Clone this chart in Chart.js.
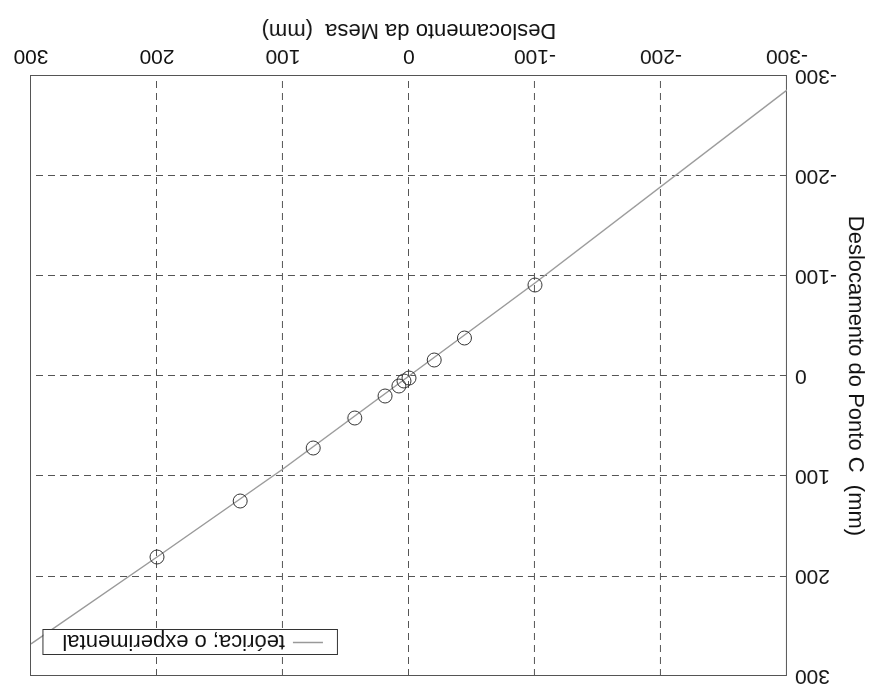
<!DOCTYPE html>
<html>
<head>
<meta charset="utf-8">
<title>Deslocamento do Ponto C x Deslocamento da Mesa</title>
<script src="https://cdn.jsdelivr.net/npm/chart.js@4.4.0/dist/chart.umd.min.js"></script>
<style>
  html, body { margin: 0; padding: 0; background: #fff; }
  /* the scanned figure is upside down, so the whole canvas is turned */
  #wrap { width: 876px; height: 684px; transform: rotate(180deg); }
</style>
</head>
<body>
<div id="wrap"><canvas id="chart" width="876" height="684"></canvas></div>
<script>
// === DATA ===
const xTicks = [-300, -200, -100, 0, 100, 200, 300];
const yTicks = [-300, -200, -100, 0, 100, 200, 300];

// theoretical line
const teoX = [-300, -100, 0, 100, 200, 300];
const teoY = [-286, -93, 0, 93, 181, 268];

// experimental points (circles)
const expX = [-100, -44, -20, 0, 4, 8, 19, 43, 76, 134, 200];
const expY = [-91, -38, -16, 2, 5, 10, 20, 42, 72, 125, 181];

const xTitle = "Deslocamento da Mesa  (mm)";
const yTitle = "Deslocamento do Ponto C  (mm)";
const legendText = "teórica; o experimental";
// =================

const FONT = "'Liberation Sans', Arial, Helvetica, sans-serif";

function pts(xs, ys) { return xs.map((x, i) => ({ x, y: ys[i] })); }

// solid box round the plot area
const frame = {
  id: "frame",
  beforeDatasetsDraw(chart) {
    const { ctx, chartArea: a } = chart;
    ctx.save();
    ctx.strokeStyle = "#555";
    ctx.lineWidth = 1;
    ctx.strokeRect(a.left + 0.5, a.top + 0.5, a.right - a.left, a.bottom - a.top);
    ctx.restore();
  }
};

// boxed legend in the upper right corner of the plot
const boxLegend = {
  id: "boxLegend",
  afterDraw(chart) {
    const { ctx, chartArea: a } = chart;
    ctx.save();
    ctx.font = "22px " + FONT;
    const tw = ctx.measureText(legendText).width;
    const w = tw + 72, h = 25;
    const x = Math.round(a.right - 12 - w), y = Math.round(a.top + 21);
    ctx.fillStyle = "#fff";
    ctx.fillRect(x, y, w, h);
    ctx.strokeStyle = "#333";
    ctx.lineWidth = 1;
    ctx.strokeRect(x + 0.5, y + 0.5, w, h);
    ctx.strokeStyle = "#999";
    ctx.lineWidth = 1.5;
    ctx.beginPath();
    ctx.moveTo(x + 15, y + h / 2);
    ctx.lineTo(x + 45, y + h / 2);
    ctx.stroke();
    ctx.fillStyle = "#111";
    ctx.textBaseline = "middle";
    ctx.fillText(legendText, x + 53, y + h / 2 + 1);
    ctx.restore();
  }
};

new Chart(document.getElementById("chart"), {
  type: "scatter",
  data: {
    datasets: [
      {
        label: "teórica",
        data: pts(teoX, teoY),
        showLine: true,
        borderColor: "#9a9a9a",
        borderWidth: 1.5,
        pointRadius: 0,
        order: 2
      },
      {
        label: "experimental",
        data: pts(expX, expY),
        showLine: false,
        pointStyle: "circle",
        pointRadius: 7,
        pointBorderWidth: 1,
        pointBorderColor: "#333",
        pointBackgroundColor: "rgba(0,0,0,0)",
        order: 1
      }
    ]
  },
  options: {
    responsive: false,
    animation: false,
    layout: { padding: { top: 6, right: 31, bottom: 0, left: 0 } },
    plugins: { legend: { display: false }, tooltip: { enabled: false } },
    scales: {
      x: {
        type: "linear",
        min: xTicks[0],
        max: xTicks[xTicks.length - 1],
        afterBuildTicks: s => { s.ticks = xTicks.map(v => ({ value: v })); },
        afterFit: s => { s.height = 76; },
        ticks: { color: "#111", font: { family: FONT, size: 21 }, padding: 8, maxRotation: 0 },
        grid: { color: "#555", lineWidth: 1, drawTicks: false },
        border: { display: false, dash: [7, 5] },
        title: {
          display: true, text: xTitle, color: "#111",
          font: { family: FONT, size: 22 }, padding: { top: 0, bottom: 17 }
        }
      },
      y: {
        type: "linear",
        min: yTicks[0],
        max: yTicks[yTicks.length - 1],
        afterBuildTicks: s => { s.ticks = yTicks.map(v => ({ value: v })); },
        afterFit: s => { s.width = 89; s.paddingTop = 0; s.paddingBottom = 0; },
        ticks: { color: "#111", font: { family: FONT, size: 21 }, padding: 8 },
        grid: { color: "#555", lineWidth: 1, drawTicks: false },
        border: { display: false, dash: [7, 5] },
        title: {
          display: true, text: yTitle, color: "#111",
          font: { family: FONT, size: 22 }, padding: { top: 8, bottom: 0 }
        }
      }
    }
  },
  plugins: [frame, boxLegend]
});
</script>
</body>
</html>
